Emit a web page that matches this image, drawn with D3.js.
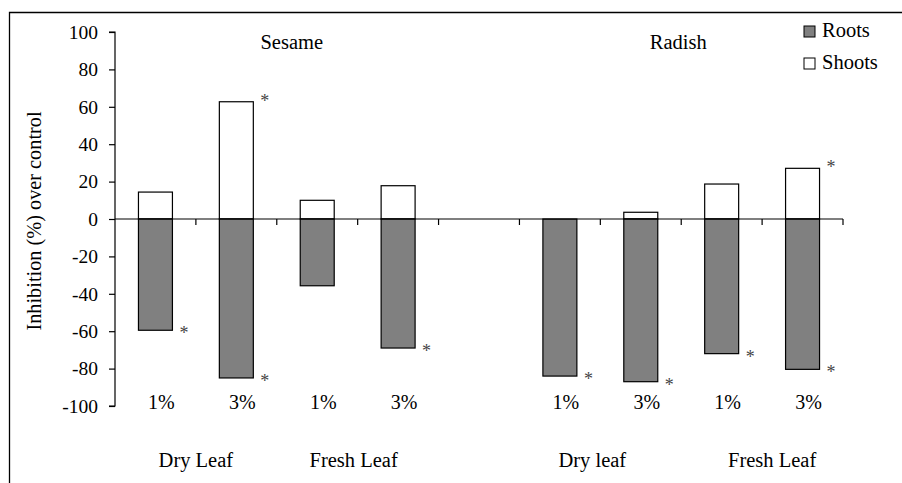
<!DOCTYPE html>
<html>
<head>
<meta charset="utf-8">
<script src="https://cdn.jsdelivr.net/npm/d3@7"></script>
<style>
  body { margin: 0; background: #fff; }
</style>
</head>
<body>
<svg id="chart"></svg>
<script>
// data (one slot left empty between the two crops)
let slots = ["s1", "s2", "s3", "s4", "gap", "r1", "r2", "r3", "r4"]
let doseLabels = ["1%", "3%", "1%", "3%", "", "1%", "3%", "1%", "3%"]
let roots = [-59.5, -85, -35.7, -69, null, -84, -87, -72, -80.4]
let shoots = [14.4, 62.7, 10, 17.8, null, 0, 3.6, 18.7, 27.1]
let rootStar = [true, true, false, true, false, true, true, true, true]
let shootStar = [false, true, false, false, false, false, false, false, true]
let groupLabels = ["Dry Leaf", "Fresh Leaf", "Dry leaf", "Fresh Leaf"]
let groupSlots = [["s1", "s2"], ["s3", "s4"], ["r1", "r2"], ["r3", "r4"]]
let groupShift = [0, -4, -8, 10]
let cropLabels = ["Sesame", "Radish"]
let cropSlots = [["s2", "s3"], ["r2", "r3"]]
let cropShift = [15, -3]
let yTicks = [100, 80, 60, 40, 20, 0, -20, -40, -60, -80, -100]

let width = 902
let height = 483
let plotLeft = 115, plotRight = 843, plotTop = 32, plotBottom = 406
let font = "'Liberation Serif', 'DejaVu Serif', serif"

let svg = d3.select('#chart').attr('width', width).attr('height', height)
  .attr('font-family', font)

// outer frame (cropped on the right and bottom in the original)
svg.append('path')
  .attr('d', 'M9.5,' + (height + 5) + ' V12.5 H' + (width + 5))
  .attr('fill', 'none').attr('stroke', '#000').attr('stroke-width', 1.3)

let x = d3.scaleBand().domain(slots).range([plotLeft, plotRight]).padding(0)
let y = d3.scaleLinear().domain([-100, 100]).range([plotBottom, plotTop])
let barW = x.bandwidth() * 0.42

// y axis (plain hyphen minus like the original)
let yAxis = d3.axisLeft(y).tickValues(yTicks).tickSize(6).tickPadding(11).tickFormat(d => String(d))
let gy = svg.append('g').attr('transform', 'translate(' + plotLeft + ',0)').call(yAxis)
gy.attr('font-family', font).attr('font-size', 19.5)
gy.select('.domain').attr('d', 'M-6,' + y(100) + 'H0V' + y(-100) + 'H-6')
gy.selectAll('text').attr('fill', '#000')

svg.append('text')
  .attr('transform', 'translate(41,221) rotate(-90)')
  .attr('text-anchor', 'middle')
  .attr('font-size', 20.3)
  .text('Inhibition (%) over control')

let cx = s => x(s) + x.bandwidth() / 2

// shoots
svg.selectAll('.shoot')
  .data(slots.map((s, i) => ({ s: s, v: shoots[i] })).filter(d => d.v))
  .join('rect')
  .attr('class', 'shoot')
  .attr('x', d => cx(d.s) - barW / 2)
  .attr('width', barW)
  .attr('y', d => y(d.v))
  .attr('height', d => y(0) - y(d.v))
  .attr('fill', '#fff').attr('stroke', '#000').attr('stroke-width', 1.2)

// roots
svg.selectAll('.root')
  .data(slots.map((s, i) => ({ s: s, v: roots[i] })).filter(d => d.v))
  .join('rect')
  .attr('class', 'root')
  .attr('x', d => cx(d.s) - barW / 2)
  .attr('width', barW)
  .attr('y', y(0))
  .attr('height', d => y(d.v) - y(0))
  .attr('fill', '#808080').attr('stroke', '#000').attr('stroke-width', 1.2)

// x axis on the zero line
let xAxis = d3.axisBottom(x).tickSize(6).tickFormat('')
let gx = svg.append('g').attr('transform', 'translate(0,' + y(0) + ')').call(xAxis)
gx.selectAll('.tick').attr('transform', d => 'translate(' + (x(d) + x.bandwidth()) + ',0)')
gx.select('.domain').attr('d', 'M' + plotLeft + ',0H' + plotRight)
gx.selectAll('line, path').attr('stroke', '#000').attr('stroke-width', 1.2)
gy.selectAll('line, path').attr('stroke', '#000').attr('stroke-width', 1.2)

// significance stars
let stars = []
slots.forEach((s, i) => {
  if (rootStar[i]) stars.push({ s: s, v: roots[i], dy: 9 })
  if (shootStar[i]) stars.push({ s: s, v: shoots[i], dy: 5 })
})
svg.selectAll('.star')
  .data(stars)
  .join('text')
  .attr('class', 'star')
  .attr('x', d => cx(d.s) + barW / 2 + 7)
  .attr('y', d => y(d.v) + d.dy)
  .attr('font-size', 18)
  .attr('fill', '#444')
  .text('*')

// dose labels
svg.selectAll('.dose')
  .data(slots.map((s, i) => ({ s: s, t: doseLabels[i] })).filter(d => d.t))
  .join('text')
  .attr('class', 'dose')
  .attr('x', d => cx(d.s) + 6)
  .attr('y', 409)
  .attr('text-anchor', 'middle')
  .attr('font-size', 20)
  .text(d => d.t)

// leaf type labels
svg.selectAll('.group')
  .data(groupLabels)
  .join('text')
  .attr('class', 'group')
  .attr('x', (d, i) => (cx(groupSlots[i][0]) + cx(groupSlots[i][1])) / 2 + groupShift[i])
  .attr('y', 467)
  .attr('text-anchor', 'middle')
  .attr('font-size', 20.5)
  .text(d => d)

// crop titles
svg.selectAll('.crop')
  .data(cropLabels)
  .join('text')
  .attr('class', 'crop')
  .attr('x', (d, i) => (cx(cropSlots[i][0]) + cx(cropSlots[i][1])) / 2 + cropShift[i])
  .attr('y', 49)
  .attr('text-anchor', 'middle')
  .attr('font-size', 20.5)
  .text(d => d)

// legend
let legend = svg.append('g').attr('transform', 'translate(804,0)')
let legendItems = [{ name: 'Roots', fill: '#808080', y: 26 }, { name: 'Shoots', fill: '#fff', y: 58 }]
legend.selectAll('rect')
  .data(legendItems)
  .join('rect')
  .attr('x', 0).attr('y', d => d.y)
  .attr('width', 11).attr('height', 11)
  .attr('fill', d => d.fill).attr('stroke', '#000').attr('stroke-width', 1)
legend.selectAll('text')
  .data(legendItems)
  .join('text')
  .attr('x', 18).attr('y', d => d.y + 11)
  .attr('font-size', 20.5)
  .text(d => d.name)
</script>
</body>
</html>
